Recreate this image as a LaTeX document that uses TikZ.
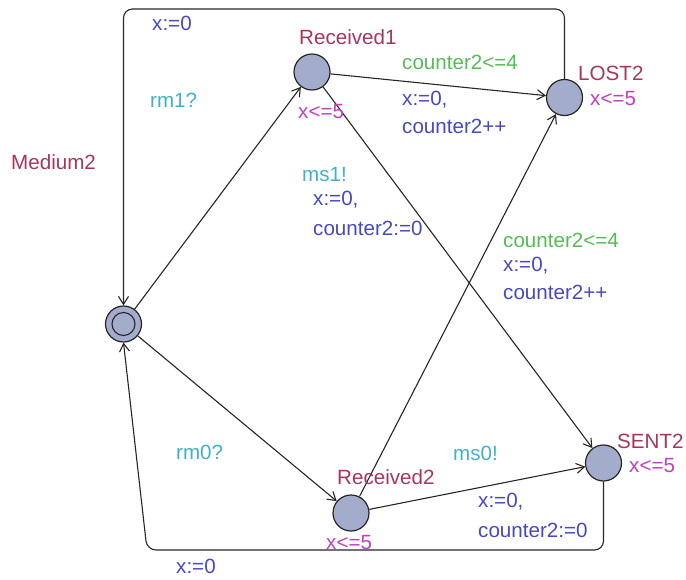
\documentclass[tikz,border=0pt]{standalone}
\usepackage{fontspec}
\setmainfont{Liberation Sans}
\usetikzlibrary{arrows.meta}
\definecolor{locname}{RGB}{168,52,96}
\definecolor{invcol}{RGB}{192,64,192}
\definecolor{guardcol}{RGB}{84,188,84}
\definecolor{synccol}{RGB}{64,178,200}
\definecolor{updcol}{RGB}{72,72,196}
\definecolor{locfill}{RGB}{164,172,204}
\tikzset{
  loc/.style={circle, draw=black!85, line width=1.2pt, fill=locfill, minimum size=36pt, inner sep=0pt},
  lbl/.style={anchor=west, inner sep=0pt, font=\fontsize{20.6}{23}\selectfont},
  nm/.style={lbl, text=locname},
  inv/.style={lbl, text=invcol},
  grd/.style={lbl, text=guardcol},
  syn/.style={lbl, text=synccol},
  upd/.style={lbl, text=updcol},
  edge/.style={draw=black!85, line width=1.1pt, -{Straight Barb[length=8pt,width=10pt,line width=1.1pt]}},
}
\begin{document}
\begin{tikzpicture}[x=1pt,y=-1pt]
\useasboundingbox (0,0) rectangle (686,579);
% locations
\node[loc] (init) at (123.5,324) {};
\node[circle, draw=black!85, line width=1.1pt, minimum size=23pt, inner sep=0pt] (initin) at (init) {};
\node[loc] (r1) at (312,72) {};
\node[loc] (lost) at (564.5,97.5) {};
\node[loc] (r2) at (351,513) {};
\node[loc] (sent) at (603.5,463) {};
% corner coordinates
\coordinate (tl) at (123.5,9);
\coordinate (tr) at (564.5,9);
\coordinate (br) at (603.5,550);
\coordinate (bl) at (147,550);
% edges
\draw[edge] (init) -- (r1);
\draw[edge] (init) -- (r2);
\draw[edge] (r1) -- (lost);
\draw[edge] (r1) -- (sent);
\draw[edge] (r2) -- (lost);
\draw[edge] (r2) -- (sent);
\draw[edge, rounded corners=9pt] (lost.north) -- (tr) -- (tl) -- (init.north);
\draw[edge, rounded corners=9pt] (sent.south) -- (br) -- (bl) -- (init.south);
% names and invariants
\node[nm] (tname) at (11,162) {Medium2};
\node[nm] (nr1) at (299,37) {Received1};
\node[inv] (ir1) at (298,112) {x<=5};
\node[nm] (nlost) at (578,73) {LOST2};
\node[inv] (ilost) at (590,99) {x<=5};
\node[nm] (nr2) at (337,477) {Received2};
\node[inv] (ir2) at (326,543) {x<=5};
\node[nm] (nsent) at (617,441) {SENT2};
\node[inv] (isent) at (629,466) {x<=5};
% edge labels
\node[upd] (u1) at (152,23) {x:=0};
\node[syn] (s1) at (150,100) {rm1?};
\node[grd] (g1) at (402,62) {counter2<=4};
\node[upd] (u2a) at (402,100) {x:=0,};
\node[upd] (u2b) at (402,126) {counter2++};
\node[syn] (s2) at (302,175) {ms1!};
\node[upd] (u3a) at (313,200) {x:=0,};
\node[upd] (u3b) at (313,228) {counter2:=0};
\node[grd] (g2) at (503,240) {counter2<=4};
\node[upd] (u4a) at (503,266) {x:=0,};
\node[upd] (u4b) at (503,292) {counter2++};
\node[syn] (s3) at (176,452) {rm0?};
\node[syn] (s4) at (453,453) {ms0!};
\node[upd] (u5a) at (478,502) {x:=0,};
\node[upd] (u5b) at (478,530) {counter2:=0};
\node[upd] (u6) at (176,566) {x:=0};
\end{tikzpicture}
\end{document}
